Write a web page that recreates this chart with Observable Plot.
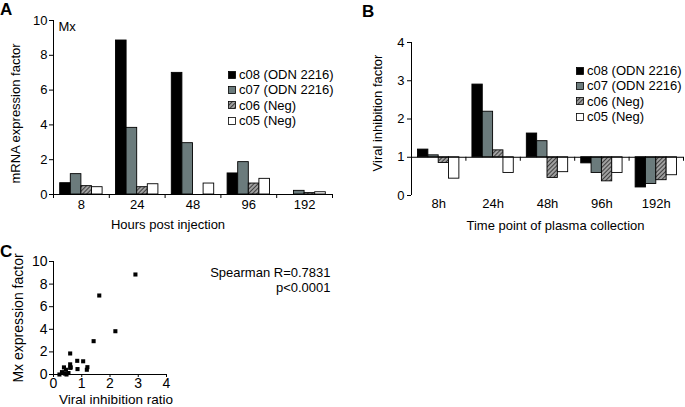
<!DOCTYPE html>
<html>
<head>
<meta charset="utf-8">
<script src="https://cdn.jsdelivr.net/npm/d3@7"></script>
<script src="https://cdn.jsdelivr.net/npm/@observablehq/plot@0.6"></script>
<style>
  html, body { margin: 0; padding: 0; background: #fff; }
  #root { position: relative; width: 685px; height: 407px; overflow: hidden; background: #fff;
          font-family: "Liberation Sans", Arial, sans-serif; color: #000; }
  #root svg.plot { position: absolute; overflow: visible; }
  .panel-letter { position: absolute; font-weight: bold; font-size: 17px; line-height: 1; }
  .legend { position: absolute; font-size: 13px; line-height: 15.3px; }
  .legend div { display: flex; align-items: center; white-space: nowrap; }
  .legend svg { margin-right: 3px; }
</style>
</head>
<body>
<svg width="0" height="0" style="position:absolute">
  <defs>
    <pattern id="hatch" patternUnits="userSpaceOnUse" width="3" height="3" patternTransform="rotate(45)">
      <rect width="3" height="3" fill="#a0a0a0"></rect>
      <line x1="0" y1="0" x2="0" y2="3" stroke="#1e1e1e" stroke-width="1.5"></line>
    </pattern>
  </defs>
</svg>
<div id="root"></div>
<script>
// ---------- data ----------
const series = ["c08 (ODN 2216)", "c07 (ODN 2216)", "c06 (Neg)", "c05 (Neg)"];

// Panel A: Mx mRNA expression factor
const hoursA = ["8", "24", "48", "96", "192"];
const mxC08 = [0.65, 8.85, 6.99, 1.21, 0];
const mxC07 = [1.17, 3.83, 2.95, 1.86, 0.21];
const mxC06 = [0.48, 0.42, 0, 0.63, 0.08];
const mxC05 = [0.42, 0.59, 0.63, 0.90, 0.13];

// Panel B: viral inhibition factor
const hoursB = ["8h", "24h", "48h", "96h", "192h"];
const virC08 = [1.20, 2.90, 1.62, 0.84, 0.21];
const virC07 = [1.05, 2.19, 1.42, 0.59, 0.30];
const virC06 = [0.85, 1.18, 0.46, 0.37, 0.40];
const virC05 = [0.44, 0.59, 0.61, 0.59, 0.53];

const ticksA = [0, 2, 4, 6, 8, 10];
const ticksB = [0, 1, 2, 3, 4];
const ticksCx = [0, 1, 2, 3, 4];
const ticksCy = [0, 2, 4, 6, 8, 10];
const spearmanR = "Spearman R=0.7831";
const spearmanP = "p<0.0001";

// ---------- styles ----------
const fills = ["#000000", "#6b7b7c", "url(#hatch)", "#ffffff"];
const PAD = 0.12, W = 0.19;
const font = { fontFamily: "'Liberation Sans', Arial, sans-serif", fontSize: "13px", color: "#000", background: "transparent", overflow: "visible" };
const fmt = d => String(d);

const mxSeries = [mxC08, mxC07, mxC06, mxC05];
const virSeries = [virC08, virC07, virC06, virC05];
const toRows = (arrs) => arrs.flatMap((arr, s) => arr.map((v, g) => ({ g, s, v })));
const rowsA = toRows(mxSeries);
const rowsB = toRows(virSeries);
const pairsC = rowsA.map((d, i) => ({ mx: d.v, vir: rowsB[i].v }));

const bounds = d3.range(0, 6);
const centers = d3.range(0, 5).map(i => i + 0.5);

function barMarks(rows, base) {
  return series.map((name, s) =>
    Plot.rectY(rows.filter(d => d.s === s && d.v !== base), {
      x1: d => d.g + PAD + d.s * W,
      x2: d => d.g + PAD + (d.s + 1) * W,
      y1: base, y2: "v",
      fill: fills[s], stroke: "#000", strokeWidth: 0.9
    })
  );
}

const root = document.getElementById("root");
function place(svg, left, top) {
  svg.classList.add("plot");
  svg.style.left = left + "px";
  svg.style.top = top + "px";
  root.appendChild(svg);
}

// ---------- Panel A ----------
const plotA = Plot.plot({
  width: 340, height: 235,
  marginTop: 20, marginBottom: 41, marginLeft: 53, marginRight: 8,
  style: font,
  x: { type: "linear", domain: [0, 5], axis: null },
  y: { domain: [0, 10], axis: null },
  marks: [
    ...barMarks(rowsA, 0),
    Plot.ruleY([0], { stroke: "#000", strokeWidth: 1 }),
    Plot.ruleX([0], { stroke: "#000", strokeWidth: 1 }),
    Plot.axisY({ ticks: ticksA, tickSize: 4, tickPadding: 2, tickFormat: fmt, label: null, fontSize: 13 }),
    Plot.axisX({ ticks: bounds, tickSize: 4, tickFormat: () => "", label: null }),
    Plot.axisX({ ticks: centers, tickSize: 0, tickPadding: 5, tickFormat: i => hoursA[Math.floor(i)], label: null, fontSize: 13 }),
    Plot.text(["Mx"], { text: d => d, frameAnchor: "top-left", dx: 5, dy: 1, textAnchor: "start", fontSize: 13 }),
    Plot.text(["Hours post injection"], { text: d => d, frameAnchor: "bottom", dx: -25, dy: 34, textAnchor: "middle", fontSize: 13 }),
    Plot.text(["mRNA expression factor"], { text: d => d, frameAnchor: "left", textAnchor: "middle", rotate: -90, dx: -38, dy: 6, fontSize: 13 })
  ]
});
place(plotA, 0, 0);

// ---------- Panel B ----------
const plotB = Plot.plot({
  width: 345, height: 240,
  marginTop: 42, marginBottom: 45, marginLeft: 71, marginRight: 2,
  style: font,
  x: { type: "linear", domain: [0, 5], axis: null },
  y: { domain: [0, 4], axis: null },
  marks: [
    ...barMarks(rowsB, 1),
    Plot.ruleY([1], { stroke: "#000", strokeWidth: 1 }),
    Plot.ruleX([0], { stroke: "#000", strokeWidth: 1 }),
    Plot.ruleX(bounds.slice(1), { y1: 1, y2: 1, insetBottom: -4, stroke: "#000" }),
    Plot.axisY({ ticks: ticksB, tickSize: 4, tickPadding: 3, tickFormat: fmt, label: null, fontSize: 13 }),
    Plot.axisX({ ticks: centers, tickSize: 0, tickPadding: 3, tickFormat: i => hoursB[Math.floor(i)], label: null, fontSize: 13 }),
    Plot.text(["Time point of plasma collection"], { text: d => d, frameAnchor: "bottom", dx: 8, dy: 34, textAnchor: "middle", fontSize: 13 }),
    Plot.text(["Viral inhibition factor"], { text: d => d, frameAnchor: "left", textAnchor: "middle", rotate: -90, dx: -34, dy: -6, fontSize: 13 })
  ]
});
place(plotB, 340, 0);

// ---------- Panel C ----------
const plotC = Plot.plot({
  width: 340, height: 177,
  marginTop: 31, marginBottom: 33, marginLeft: 53, marginRight: 174,
  style: font,
  x: { domain: [0, 4], axis: null },
  y: { domain: [0, 10], axis: null },
  marks: [
    Plot.ruleY([0], { stroke: "#000", strokeWidth: 1 }),
    Plot.ruleX([0], { stroke: "#000", strokeWidth: 1 }),
    Plot.axisY({ ticks: ticksCy, tickSize: 4, tickPadding: 2, tickFormat: fmt, label: null, fontSize: 14 }),
    Plot.axisX({ ticks: ticksCx, tickSize: 3, tickPadding: 1, tickFormat: fmt, label: null, fontSize: 14 }),
    Plot.dot(pairsC, { x: "vir", y: "mx", symbol: "square", r: 2.3, fill: "#000", stroke: "none" }),
    Plot.text(["Viral inhibition ratio"], { text: d => d, frameAnchor: "bottom", dx: 6, dy: 29, textAnchor: "middle", fontSize: 13.5 }),
    Plot.text(["Mx expression factor"], { text: d => d, frameAnchor: "left", textAnchor: "middle", rotate: -90, dx: -35, fontSize: 14 }),
    Plot.text([spearmanR], { text: d => d, frameAnchor: "top-right", dx: 164, dy: 6, textAnchor: "end", fontSize: 13 }),
    Plot.text([spearmanP], { text: d => d, frameAnchor: "top-right", dx: 164, dy: 21, textAnchor: "end", fontSize: 13 })
  ]
});
place(plotC, 0, 230);

// ---------- legends & panel letters ----------
function legend(left, top) {
  const div = document.createElement("div");
  div.className = "legend";
  div.style.left = left + "px";
  div.style.top = top + "px";
  series.forEach((name, s) => {
    const row = document.createElement("div");
    row.innerHTML = `<svg width="8" height="8"><rect x="0.5" y="0.5" width="7" height="7" fill="${fills[s]}" stroke="#000" stroke-width="0.8"></rect></svg><span>${name}</span>`;
    div.appendChild(row);
  });
  root.appendChild(div);
}
legend(228, 67);
legend(576, 63);

[["A", 0, 1], ["B", 362, 3], ["C", 0, 243]].forEach(([t, x, y]) => {
  const d = document.createElement("div");
  d.className = "panel-letter";
  d.textContent = t;
  d.style.left = x + "px";
  d.style.top = y + "px";
  root.appendChild(d);
});
</script>
</body>
</html>
